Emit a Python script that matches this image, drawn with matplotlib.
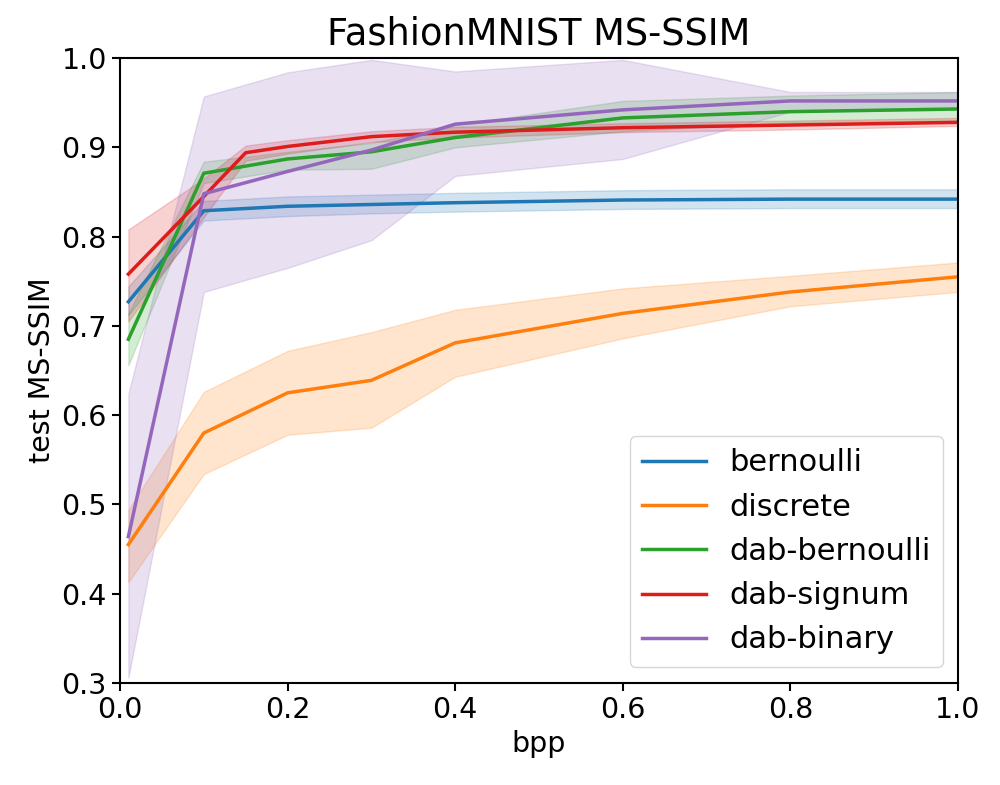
import matplotlib
matplotlib.use("Agg")
from matplotlib import pyplot as plt

# bpp values
bpp = [0.01, 0.1, 0.2, 0.3, 0.4, 0.6, 0.8, 1.0]
bpp_signum = [0.01, 0.1, 0.15, 0.2, 0.3, 0.4, 0.6, 0.8, 1.0]

# mean values
bernoulli = [0.727, 0.829, 0.834, 0.836, 0.838, 0.841, 0.842, 0.842]
discrete = [0.455, 0.580, 0.625, 0.639, 0.681, 0.714, 0.738, 0.755]
dab_bernoulli = [0.685, 0.871, 0.887, 0.895, 0.911, 0.933, 0.940, 0.943]
dab_signum = [0.758, 0.845, 0.894, 0.901, 0.912, 0.917, 0.922, 0.925, 0.928]
dab_binary = [0.464, 0.848, 0.873, 0.897, 0.926, 0.942, 0.952, 0.952]

# band bounds (lower, upper)
bernoulli_lo = [0.712, 0.818, 0.823, 0.826, 0.828, 0.831, 0.832, 0.832]
bernoulli_hi = [0.744, 0.840, 0.845, 0.847, 0.849, 0.852, 0.853, 0.853]
discrete_lo = [0.413, 0.534, 0.578, 0.586, 0.643, 0.686, 0.722, 0.738]
discrete_hi = [0.494, 0.626, 0.672, 0.693, 0.718, 0.742, 0.756, 0.771]
dab_bernoulli_lo = [0.656, 0.860, 0.875, 0.876, 0.900, 0.918, 0.928, 0.930]
dab_bernoulli_hi = [0.714, 0.884, 0.895, 0.905, 0.925, 0.952, 0.958, 0.962]
dab_signum_lo = [0.705, 0.822, 0.885, 0.893, 0.906, 0.911, 0.917, 0.920, 0.924]
dab_signum_hi = [0.808, 0.865, 0.902, 0.908, 0.918, 0.923, 0.927, 0.930, 0.933]
dab_binary_lo = [0.306, 0.738, 0.765, 0.796, 0.868, 0.887, 0.940, 0.942]
dab_binary_hi = [0.624, 0.957, 0.984, 0.998, 0.985, 0.998, 0.962, 0.962]

series = [
    ("bernoulli", bpp, bernoulli, bernoulli_lo, bernoulli_hi, "tab:blue"),
    ("discrete", bpp, discrete, discrete_lo, discrete_hi, "tab:orange"),
    ("dab-bernoulli", bpp, dab_bernoulli, dab_bernoulli_lo, dab_bernoulli_hi, "tab:green"),
    ("dab-signum", bpp_signum, dab_signum, dab_signum_lo, dab_signum_hi, "#dd1c1c"),
    ("dab-binary", bpp, dab_binary, dab_binary_lo, dab_binary_hi, "tab:purple"),
]

fig = plt.figure(figsize=(10, 7.85), dpi=100)
ax = fig.add_axes([0.12, 0.13, 0.838, 0.796])

for name, xs, ys, lo, hi, color in series:
    ax.plot(xs, ys, label=name, color=color, linewidth=2.5)
    ax.fill_between(xs, lo, hi, color=color, alpha=0.2)

ax.set_xlim(0, 1.0)
ax.set_ylim(0.3, 1.0)
ax.set_title("FashionMNIST MS-SSIM", fontsize=26.5, pad=10)
ax.set_xlabel("bpp", fontsize=20.5)
ax.set_ylabel("test MS-SSIM", fontsize=20.5)
ax.tick_params(labelsize=20.5, width=1.5, length=6)
for s in ax.spines.values():
    s.set_linewidth(1.5)
ax.legend(loc="lower right", fontsize=22, borderaxespad=0, handlelength=2.1,
          handletextpad=0.75, bbox_to_anchor=(0.982, 0.026))

fig.savefig("out.png")
